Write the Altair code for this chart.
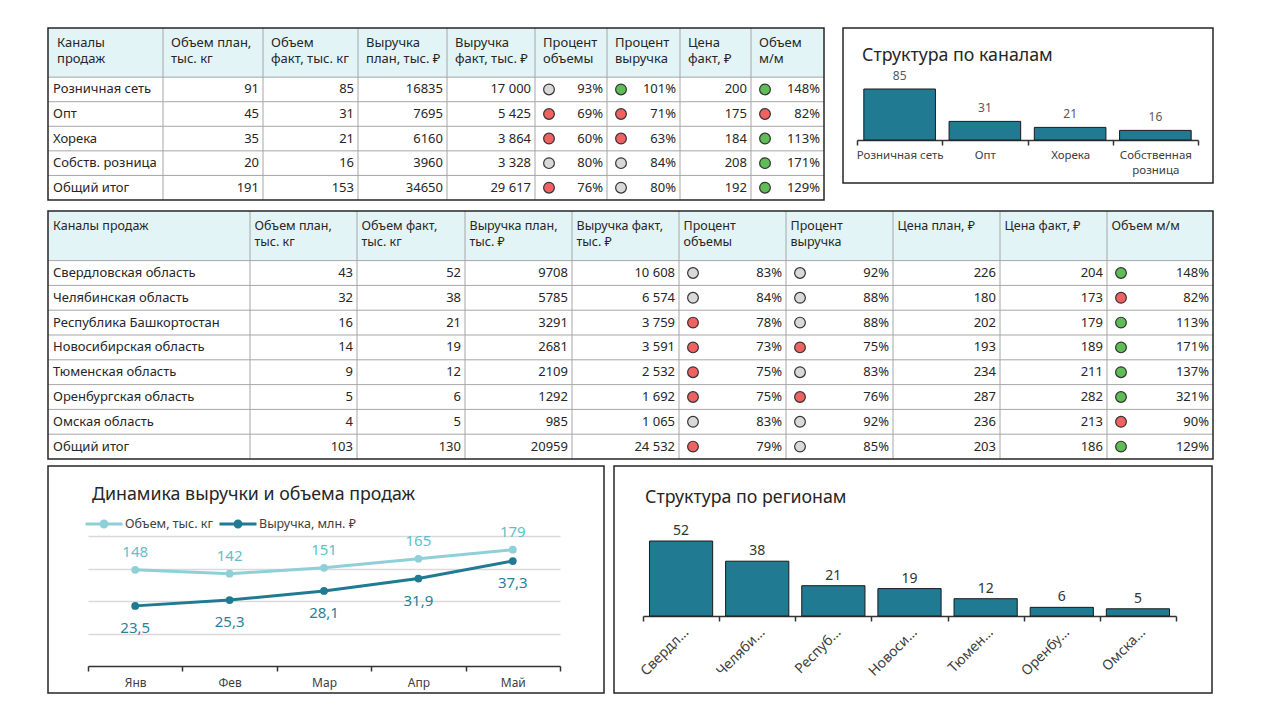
import altair as alt
import pandas as pd

FONT = "Noto Sans"
TEAL = "#1f7a92"
LIGHT = "#8fd0d8"
VOL_TXT = "#5fbfca"
REV_TXT = "#2b7f96"
DARK = "#262626"

# ---------------- data: table 1 (channels) ----------------
T1_HEADERS = ["Каналы\nпродаж", "Объем план,\nтыс. кг", "Объем\nфакт, тыс. кг",
              "Выручка\nплан, тыс. ₽", "Выручка\nфакт, тыс. ₽", "Процент\nобъемы",
              "Процент\nвыручка", "Цена\nфакт, ₽", "Объем\nм/м"]
CH_NAMES = ["Розничная сеть", "Опт", "Хорека", "Собств. розница", "Общий итог"]
CH_VOL_PLAN = [91, 45, 35, 20, 191]
CH_VOL_FACT = [85, 31, 21, 16, 153]
CH_REV_PLAN = [16835, 7695, 6160, 3960, 34650]
CH_REV_FACT = [17000, 5425, 3864, 3328, 29617]
CH_PCT_VOL = [93, 69, 60, 80, 76]
CH_PCT_REV = [101, 71, 63, 84, 80]
CH_PRICE_FACT = [200, 175, 184, 208, 192]
CH_MOM = [148, 82, 113, 171, 129]

# ---------------- data: channel structure chart ----------------
CH_BAR_NAMES = ["Розничная сеть", "Опт", "Хорека", "Собственная розница"]
CH_BAR_VALUES = [85, 31, 21, 16]

# ---------------- data: table 2 (regions) ----------------
T2_HEADERS = ["Каналы продаж", "Объем план,\nтыс. кг", "Объем факт,\nтыс. кг",
              "Выручка план,\nтыс. ₽", "Выручка факт,\nтыс. ₽", "Процент\nобъемы",
              "Процент\nвыручка", "Цена план, ₽", "Цена факт, ₽", "Объем м/м"]
RG_NAMES = ["Свердловская область", "Челябинская область", "Республика Башкортостан",
            "Новосибирская область", "Тюменская область", "Оренбургская область",
            "Омская область", "Общий итог"]
RG_VOL_PLAN = [43, 32, 16, 14, 9, 5, 4, 103]
RG_VOL_FACT = [52, 38, 21, 19, 12, 6, 5, 130]
RG_REV_PLAN = [9708, 5785, 3291, 2681, 2109, 1292, 985, 20959]
RG_REV_FACT = [10608, 6574, 3759, 3591, 2532, 1692, 1065, 24532]
RG_PCT_VOL = [83, 84, 78, 73, 75, 75, 83, 79]
RG_PCT_REV = [92, 88, 88, 75, 83, 76, 92, 85]
RG_PRICE_PLAN = [226, 180, 202, 193, 234, 287, 236, 203]
RG_PRICE_FACT = [204, 173, 179, 189, 211, 282, 213, 186]
RG_MOM = [148, 82, 113, 171, 137, 321, 90, 129]

# ---------------- data: dynamics ----------------
MONTHS = ["Янв", "Фев", "Мар", "Апр", "Май"]
VOLUME = [148, 142, 151, 165, 179]
REVENUE = [23.5, 25.3, 28.1, 31.9, 37.3]
S_VOL = "Объем, тыс. кг"
S_REV = "Выручка, млн. ₽"

# ---------------- layout constants ----------------
T1_COL_W = [115, 100, 95, 89, 88, 72, 73, 71, 73]
T2_COL_W = [202, 107, 108, 107, 107, 107, 107, 107, 107, 106]


def fmt_plain(v):
    return str(v)


def fmt_sep(v):
    return f"{v:,}".replace(",", " ")


def fmt_pct(v):
    return f"{v}%"


def fmt_dec(v):
    return f"{v:.1f}".replace(".", ",")


def pct_status(v):
    return "green" if v >= 100 else ("gray" if v >= 80 else "red")


def mom_status(v):
    return "green" if v >= 100 else "red"


STATUS_SCALE = alt.Scale(domain=["red", "gray", "green"],
                         range=["#f06262", "#d9d9d9", "#5fbd58"])


def make_table(headers, columns, col_w, height, head_size, head_pad, first_pad):
    W = sum(col_w)
    n = len(columns[0][1])
    U = 2 + n
    starts = [sum(col_w[:i]) for i in range(len(col_w))]
    ends = [s + w for s, w in zip(starts, col_w)]

    head_df = pd.DataFrame({
        "x": [s + (first_pad if i == 0 else head_pad) for i, s in enumerate(starts)],
        "y": [0] * len(starts), "text": headers})
    left_rows, right_rows, dot_rows = [], [], []
    for c, (kind, texts, stats) in enumerate(columns):
        for r, t in enumerate(texts):
            yc = 2 + r + 0.5
            if kind == "label":
                left_rows.append({"x": starts[c] + 5, "y": yc, "text": t})
            else:
                right_rows.append({"x": ends[c] - 4, "y": yc, "text": t})
            if kind == "dot":
                dot_rows.append({"x": starts[c] + 14, "y": yc, "status": stats[r]})

    xs = alt.Scale(domain=[0, W], nice=False, zero=False)
    ys = alt.Scale(domain=[0, U], nice=False, zero=False, reverse=True)

    bg = alt.Chart(pd.DataFrame({"x": [0], "x2": [W], "y": [0], "y2": [2]})).mark_rect(
        color="#e3f4f7").encode(
        x=alt.X("x:Q", scale=xs, axis=None), x2="x2:Q",
        y=alt.Y("y:Q", scale=ys, axis=None), y2="y2:Q")
    vrules = alt.Chart(pd.DataFrame({"x": starts[1:], "y": 0, "y2": U})).mark_rule(
        color="#a6a6a6", strokeWidth=1).encode(
        x=alt.X("x:Q", scale=xs, axis=None),
        y=alt.Y("y:Q", scale=ys, axis=None), y2="y2:Q")
    hrules = alt.Chart(pd.DataFrame({"y": [2 + r for r in range(n)], "x": 0, "x2": W})).mark_rule(
        color="#a6a6a6", strokeWidth=1).encode(
        x=alt.X("x:Q", scale=xs, axis=None), x2="x2:Q",
        y=alt.Y("y:Q", scale=ys, axis=None))
    head = alt.Chart(head_df).mark_text(
        align="left", baseline="top", dy=9, lineBreak="\n", lineHeight=16,
        fontSize=head_size, color=DARK, font=FONT).encode(
        x=alt.X("x:Q", scale=xs, axis=None), y=alt.Y("y:Q", scale=ys, axis=None), text="text:N")
    left = alt.Chart(pd.DataFrame(left_rows)).mark_text(
        align="left", baseline="middle", fontSize=13, color=DARK, font=FONT).encode(
        x=alt.X("x:Q", scale=xs, axis=None), y=alt.Y("y:Q", scale=ys, axis=None), text="text:N")
    right = alt.Chart(pd.DataFrame(right_rows)).mark_text(
        align="right", baseline="middle", fontSize=13, color=DARK, font=FONT).encode(
        x=alt.X("x:Q", scale=xs, axis=None), y=alt.Y("y:Q", scale=ys, axis=None), text="text:N")
    dots = alt.Chart(pd.DataFrame(dot_rows)).mark_circle(
        size=115, opacity=1, stroke="#333333", strokeWidth=1.2).encode(
        x=alt.X("x:Q", scale=xs, axis=None), y=alt.Y("y:Q", scale=ys, axis=None),
        fill=alt.Fill("status:N", scale=STATUS_SCALE, legend=None))
    border = alt.Chart(pd.DataFrame({"x": [0], "x2": [W], "y": [0], "y2": [U]})).mark_rect(
        fillOpacity=0, stroke=DARK, strokeWidth=1.5).encode(
        x=alt.X("x:Q", scale=xs, axis=None), x2="x2:Q",
        y=alt.Y("y:Q", scale=ys, axis=None), y2="y2:Q")
    return alt.layer(bg, vrules, hrules, head, left, right, dots, border).properties(
        width=W, height=height, view=alt.ViewBackground(stroke="transparent"))


table1 = make_table(
    T1_HEADERS,
    [("label", CH_NAMES, None),
     ("num", [fmt_plain(v) for v in CH_VOL_PLAN], None),
     ("num", [fmt_plain(v) for v in CH_VOL_FACT], None),
     ("num", [fmt_plain(v) for v in CH_REV_PLAN], None),
     ("num", [fmt_sep(v) for v in CH_REV_FACT], None),
     ("dot", [fmt_pct(v) for v in CH_PCT_VOL], [pct_status(v) for v in CH_PCT_VOL]),
     ("dot", [fmt_pct(v) for v in CH_PCT_REV], [pct_status(v) for v in CH_PCT_REV]),
     ("num", [fmt_plain(v) for v in CH_PRICE_FACT], None),
     ("dot", [fmt_pct(v) for v in CH_MOM], [mom_status(v) for v in CH_MOM])],
    T1_COL_W, 172, 13, 8, 9)

table2 = make_table(
    T2_HEADERS,
    [("label", RG_NAMES, None),
     ("num", [fmt_plain(v) for v in RG_VOL_PLAN], None),
     ("num", [fmt_plain(v) for v in RG_VOL_FACT], None),
     ("num", [fmt_plain(v) for v in RG_REV_PLAN], None),
     ("num", [fmt_sep(v) for v in RG_REV_FACT], None),
     ("dot", [fmt_pct(v) for v in RG_PCT_VOL], [pct_status(v) for v in RG_PCT_VOL]),
     ("dot", [fmt_pct(v) for v in RG_PCT_REV], [pct_status(v) for v in RG_PCT_REV]),
     ("num", [fmt_plain(v) for v in RG_PRICE_PLAN], None),
     ("num", [fmt_plain(v) for v in RG_PRICE_FACT], None),
     ("dot", [fmt_pct(v) for v in RG_MOM], [mom_status(v) for v in RG_MOM])],
    T2_COL_W, 248, 12.5, 4.5, 5)


def band_axis(offset, label_size, angle=0, limit=200, expr=None, pad=5):
    kw = dict(title=None, labelAngle=angle, offset=offset, tickBand="extent", tickSize=5,
              tickColor="#333333", tickWidth=1.5, domainColor="#333333", domainWidth=1.5,
              labelFontSize=label_size, labelColor="#404040", labelFont=FONT,
              labelPadding=pad, labelLimit=limit, grid=False)
    if expr:
        kw["labelExpr"] = expr
        kw["labelLineHeight"] = 15
    return alt.Axis(**kw)


def panel_title(text, dx, off):
    return alt.Title(text, anchor="start", frame="group", dx=dx, offset=off,
                     baseline="middle", fontSize=17.8, fontWeight="normal",
                     color=DARK, font=FONT)


# ---------------- channel structure ----------------
ch_df = pd.DataFrame({"name": CH_BAR_NAMES, "value": CH_BAR_VALUES})
ch_x = alt.X("name:N", sort=CH_BAR_NAMES,
             scale=alt.Scale(range=[14, 355], paddingInner=0, paddingOuter=0),
             axis=band_axis(-43, 11.5, expr="length(datum.label) > 15 ? split(datum.label, ' ') : datum.label", pad=4))
ch_y = alt.Y("value:Q", scale=alt.Scale(domain=[0, 85], range=[112, 61], nice=False), axis=None)
ch_bars = alt.Chart(ch_df).mark_bar(width=alt.RelativeBandSize(0.84), color=TEAL,
                                    stroke="#1a1a1a", strokeWidth=1).encode(ch_x, ch_y)
ch_text = alt.Chart(ch_df).mark_text(dy=-13, fontSize=12, color="#595959", baseline="middle",
                                     font=FONT).encode(ch_x, ch_y, text="value:Q")
channels = alt.layer(ch_bars, ch_text).properties(
    width=370, height=155, title=panel_title("Структура по каналам", 19, -46))

# ---------------- region structure ----------------
rg_names = RG_NAMES[:7]
rg_vals = RG_VOL_FACT[:7]
rg_df = pd.DataFrame({"name": rg_names, "value": rg_vals})
rg_x = alt.X("name:N", sort=rg_names,
             scale=alt.Scale(range=[29, 562], paddingInner=0, paddingOuter=0),
             axis=band_axis(-77, 14, angle=-45, limit=62, pad=4))
rg_y = alt.Y("value:Q", scale=alt.Scale(domain=[0, 52], range=[150, 75], nice=False), axis=None)
rg_bars = alt.Chart(rg_df).mark_bar(width=alt.RelativeBandSize(0.83), color=TEAL,
                                    stroke="#1a1a1a", strokeWidth=1).encode(rg_x, rg_y)
rg_text = alt.Chart(rg_df).mark_text(dy=-10, fontSize=14, color="#333333", baseline="middle",
                                     font=FONT).encode(rg_x, rg_y, text="value:Q")
regions = alt.layer(rg_bars, rg_text).properties(
    width=598, height=227, title=panel_title("Структура по регионам", 31, -50))

# ---------------- dynamics ----------------
vol_df = pd.DataFrame({"month": MONTHS, "value": VOLUME, "series": S_VOL,
                       "label": [str(v) for v in VOLUME]})
rev_df = pd.DataFrame({"month": MONTHS, "value": REVENUE, "series": S_REV,
                       "label": [fmt_dec(v) for v in REVENUE]})
ln_x = alt.X("month:N", sort=MONTHS, bandPosition=0.5,
             scale=alt.Scale(type="band", range=[40, 512], paddingInner=0, paddingOuter=0),
             axis=band_axis(-27, 12, pad=6))
LEG_PATH = ("M-1,0L1,0"
            "M0.16,0A0.16,0.16,0,1,1,-0.16,0A0.16,0.16,0,1,1,0.16,0"
            "M0.07,0A0.07,0.07,0,1,1,-0.07,0A0.07,0.07,0,1,1,0.07,0")
ln_color = alt.Color("series:N", scale=alt.Scale(domain=[S_VOL, S_REV], range=[LIGHT, TEAL]),
                     legend=alt.Legend(title=None, orient="none", legendX=36, legendY=38,
                                       direction="horizontal", symbolType=LEG_PATH,
                                       symbolSize=1369, symbolStrokeWidth=3,
                                       labelFontSize=12.5, labelColor="#404040", labelFont=FONT,
                                       labelOffset=1, columnPadding=0))
vol_y = alt.Y("value:Q", scale=alt.Scale(domain=[0, 200], range=[200, 70], nice=False, zero=False),
              axis=alt.Axis(values=[50, 100, 150, 200], grid=True, gridColor="#d9d9d9",
                            gridWidth=1.5, labels=False, ticks=False, domain=False, title=None))
rev_y = alt.Y("value:Q", scale=alt.Scale(domain=[5, 45], range=[200, 70], nice=False, zero=False),
              axis=None)

vol_layer = alt.layer(
    alt.Chart(vol_df).mark_line(strokeWidth=3).encode(ln_x, vol_y, ln_color),
    alt.Chart(vol_df).mark_circle(size=60, opacity=1, color=LIGHT).encode(ln_x, vol_y),
    alt.Chart(vol_df).mark_text(dy=-18, fontSize=15, color=VOL_TXT, font=FONT).encode(
        ln_x, vol_y, text="label:N"))
rev_layer = alt.layer(
    alt.Chart(rev_df).mark_line(strokeWidth=3).encode(ln_x, rev_y, ln_color),
    alt.Chart(rev_df).mark_circle(size=60, opacity=1, color=TEAL).encode(ln_x, rev_y),
    alt.Chart(rev_df).mark_text(dy=22, fontSize=15, color=REV_TXT, font=FONT).encode(
        ln_x, rev_y, text="label:N"))
dynamics = alt.layer(vol_layer, rev_layer).resolve_scale(y="independent").properties(
    width=556, height=227, title=panel_title("Динамика выручки и объема продаж", 44, -47))


def indep(c):
    return c.resolve_scale(color="independent", fill="independent").resolve_legend(
        color="independent", fill="independent")


# ---------------- layout ----------------
row1 = indep(alt.hconcat(table1, channels, spacing=16))
top = indep(alt.vconcat(row1, table2, spacing=7))
row3 = indep(alt.hconcat(dynamics, regions, spacing=8))
chart = indep(alt.vconcat(top, row3, spacing=4)).properties(
    padding={"left": 46, "top": 26, "right": 0, "bottom": 0},
    background="white",
).configure(font=FONT).configure_view(stroke=DARK, strokeWidth=1.5, fill="white")

chart.save("out.html", embed_options={"renderer": "svg", "actions": False})
